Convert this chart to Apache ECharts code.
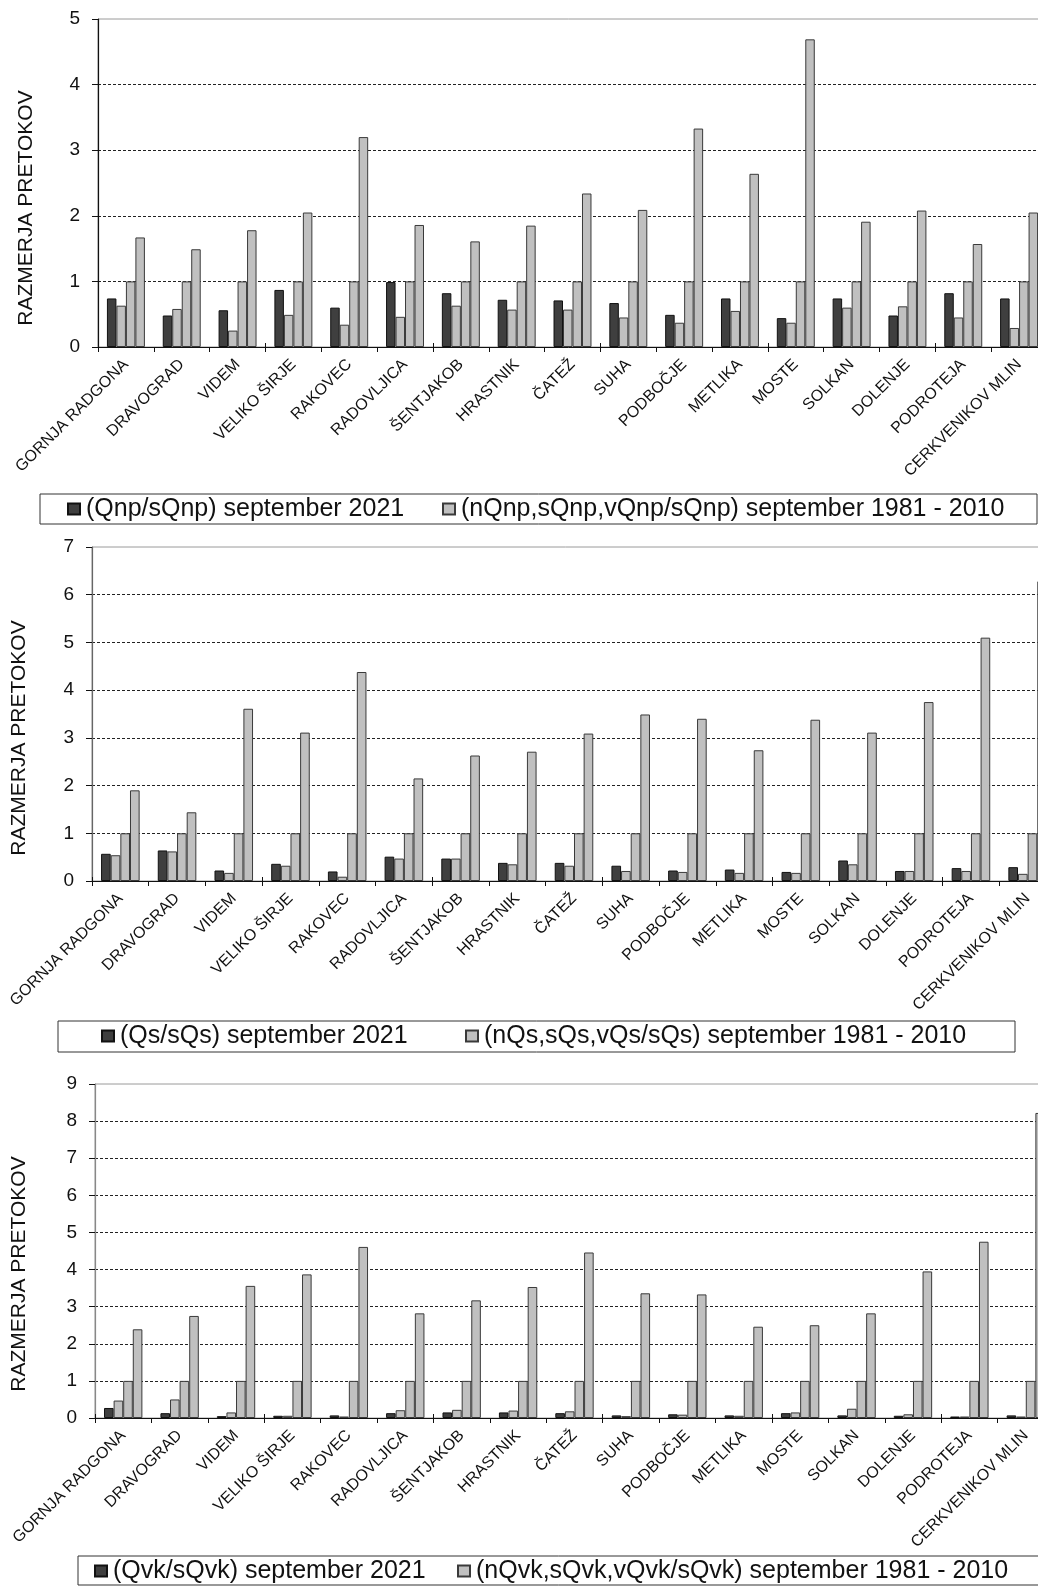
<!DOCTYPE html>
<html>
<head>
<meta charset="utf-8">
<title>Razmerja pretokov – september 2021</title>
<script src="https://cdn.jsdelivr.net/npm/echarts@6/dist/echarts.min.js"></script>
<style>
  html, body { margin: 0; padding: 0; background: #fff; }
  #chart { width: 1038px; height: 1586px; }
</style>
</head>
<body>
<div id="chart"></div>
<script>
// Gauging stations (shared by all three panels)
const stations = ['GORNJA RADGONA', 'DRAVOGRAD', 'VIDEM', 'VELIKO ŠIRJE', 'RAKOVEC', 'RADOVLJICA',
  'ŠENTJAKOB', 'HRASTNIK', 'ČATEŽ', 'SUHA', 'PODBOČJE', 'METLIKA', 'MOSTE', 'SOLKAN',
  'DOLENJE', 'PODROTEJA', 'CERKVENIKOV MLIN'];

// Low flows (Qnp / sQnp)
const qnp2021 = [0.74, 0.48, 0.56, 0.87, 0.60, 0.99, 0.82, 0.72, 0.71, 0.67, 0.49, 0.74, 0.44, 0.74, 0.48, 0.82, 0.74];
const nQnp    = [0.63, 0.58, 0.25, 0.49, 0.34, 0.46, 0.63, 0.57, 0.57, 0.45, 0.37, 0.55, 0.37, 0.60, 0.62, 0.45, 0.29];
const sQnp    = [1, 1, 1, 1, 1, 1, 1, 1, 1, 1, 1, 1, 1, 1, 1, 1, 1];
const vQnp    = [1.67, 1.49, 1.78, 2.05, 3.20, 1.86, 1.61, 1.85, 2.34, 2.09, 3.33, 2.64, 4.69, 1.91, 2.08, 1.57, 2.05];

// Mean flows (Qs / sQs)
const qs2021 = [0.57, 0.64, 0.22, 0.36, 0.20, 0.51, 0.47, 0.38, 0.38, 0.32, 0.22, 0.24, 0.19, 0.43, 0.21, 0.27, 0.29];
const nQs    = [0.54, 0.62, 0.17, 0.32, 0.09, 0.47, 0.47, 0.35, 0.32, 0.21, 0.19, 0.17, 0.17, 0.35, 0.21, 0.21, 0.15];
const sQs    = [1, 1, 1, 1, 1, 1, 1, 1, 1, 1, 1, 1, 1, 1, 1, 1, 1];
const vQs    = [1.90, 1.44, 3.61, 3.11, 4.38, 2.15, 2.63, 2.71, 3.09, 3.49, 3.40, 2.74, 3.38, 3.11, 3.75, 5.10, 6.28];

// High flows (Qvk / sQvk)
const qvk2021 = [0.27, 0.13, 0.05, 0.06, 0.07, 0.13, 0.15, 0.15, 0.13, 0.07, 0.10, 0.07, 0.13, 0.07, 0.06, 0.04, 0.07];
const nQvk    = [0.47, 0.50, 0.15, 0.06, 0.04, 0.21, 0.22, 0.20, 0.18, 0.05, 0.09, 0.06, 0.15, 0.25, 0.10, 0.04, 0.04];
const sQvk    = [1, 1, 1, 1, 1, 1, 1, 1, 1, 1, 1, 1, 1, 1, 1, 1, 1];
const vQvk    = [2.39, 2.75, 3.56, 3.87, 4.61, 2.82, 3.17, 3.53, 4.46, 3.36, 3.33, 2.46, 2.50, 2.82, 3.95, 4.75, 8.22];

const yTitle = 'RAZMERJA PRETOKOV';
const FONT = "'Liberation Sans', Arial, sans-serif";

const panels = [
  {
    grid: { left: 98, top: 19, width: 949, height: 328 },
    yMax: 5, axisColor: '#111',
    current: { name: '(Qnp/sQnp) september 2021', data: qnp2021 },
    period:  { name: '(nQnp,sQnp,vQnp/sQnp) september 1981 - 2010', data: [nQnp, sQnp, vQnp] },
    title: { x: 26, y: 208 },
    box: { x: 40, y: 494, w: 997, h: 30 },
    leg: [ { left: 67, cy: 509 }, { left: 442, cy: 509 } ]
  },
  {
    grid: { left: 92, top: 547, width: 964, height: 334 },
    yMax: 7, axisColor: '#666',
    current: { name: '(Qs/sQs) september 2021', data: qs2021 },
    period:  { name: '(nQs,sQs,vQs/sQs) september 1981 - 2010', data: [nQs, sQs, vQs] },
    title: { x: 19, y: 738 },
    box: { x: 58, y: 1021, w: 957, h: 31 },
    leg: [ { left: 101, cy: 1036 }, { left: 465, cy: 1036 } ]
  },
  {
    grid: { left: 95, top: 1084, width: 959, height: 334 },
    yMax: 9, axisColor: '#888',
    current: { name: '(Qvk/sQvk) september 2021', data: qvk2021 },
    period:  { name: '(nQvk,sQvk,vQvk/sQvk) september 1981 - 2010', data: [nQvk, sQvk, vQvk] },
    title: { x: 19, y: 1274 },
    box: { x: 78, y: 1556, w: 970, h: 29 },
    leg: [ { left: 94, cy: 1571 }, { left: 457, cy: 1571 } ]
  }
];

const darkStyle  = { color: '#3f3f3f', borderColor: '#111', borderWidth: 1 };
const lightStyle = { color: '#c0c0c0', borderColor: '#3a3a3a', borderWidth: 1 };

const option = {
  backgroundColor: '#fff',
  animation: false,
  grid: [], xAxis: [], yAxis: [], series: [], legend: [], graphic: []
};

panels.forEach((p, i) => {
  option.grid.push(Object.assign({
    show: true, borderColor: '#9a9a9a', borderWidth: 1, backgroundColor: 'transparent',
    containLabel: false, outerBoundsMode: 'none'
  }, p.grid));

  // category axis with labels and outward ticks
  option.xAxis.push({
    type: 'category', gridIndex: i, data: stations, position: 'bottom',
    axisLine: { show: true, lineStyle: { color: '#111', width: 1 } },
    axisTick: { show: true, length: 5, lineStyle: { color: '#111' } },
    axisLabel: {
      rotate: 45, interval: 0, margin: 15, color: '#111',
      fontFamily: FONT, fontSize: 16
    }
  });
  // companion axis drawing the inward half of each tick mark
  option.xAxis.push({
    type: 'category', gridIndex: i, data: stations, position: 'bottom',
    axisLine: { show: false },
    axisTick: { show: true, inside: true, length: 4, lineStyle: { color: '#111' } },
    axisLabel: { show: false }, splitLine: { show: false }
  });

  option.yAxis.push({
    type: 'value', gridIndex: i, min: 0, max: p.yMax, interval: 1,
    axisLine: { show: true, lineStyle: { color: p.axisColor, width: 1.2 } },
    axisTick: { show: true, length: 6, lineStyle: { color: '#111' } },
    axisLabel: { margin: 18, color: '#111', fontFamily: FONT, fontSize: 19 },
    splitLine: {
      show: true, showMinLine: false, showMaxLine: false,
      lineStyle: { color: '#222', width: 1, type: [3, 2] }
    }
  });

  const xi = i * 2;
  option.series.push({
    type: 'bar', name: p.current.name, xAxisIndex: xi, yAxisIndex: i,
    data: p.current.data, itemStyle: darkStyle,
    barGap: '0%', barCategoryGap: '32%'
  });
  p.period.data.forEach(arr => {
    option.series.push({
      type: 'bar', name: p.period.name, xAxisIndex: xi, yAxisIndex: i,
      data: arr, itemStyle: lightStyle,
      barGap: '0%', barCategoryGap: '32%'
    });
  });

  [p.current.name, p.period.name].forEach((nm, k) => {
    option.legend.push({
      data: [nm], left: p.leg[k].left, top: p.leg[k].cy - 14,
      orient: 'horizontal', padding: 0, itemGap: 0,
      itemWidth: 12, itemHeight: 11, icon: 'rect',
      selectedMode: false,
      textStyle: { fontFamily: FONT, fontSize: 25, color: '#111', lineHeight: 28, padding: [0, 0, 0, 1] }
    });
  });

  // legend frame
  option.graphic.push({
    type: 'rect', silent: true, z: -1,
    shape: { x: p.box.x, y: p.box.y, width: p.box.w, height: p.box.h },
    style: { fill: '#fff', stroke: '#333', lineWidth: 1 }
  });
  // vertical axis title
  option.graphic.push({
    type: 'text', silent: true, x: p.title.x, y: p.title.y, rotation: Math.PI / 2,
    style: {
      text: yTitle, fontFamily: FONT, fontSize: 21, fill: '#111',
      textAlign: 'center', textVerticalAlign: 'middle'
    }
  });
});

const chart = echarts.init(document.getElementById('chart'), null, { renderer: 'canvas' });
chart.setOption(option);
</script>
</body>
</html>
